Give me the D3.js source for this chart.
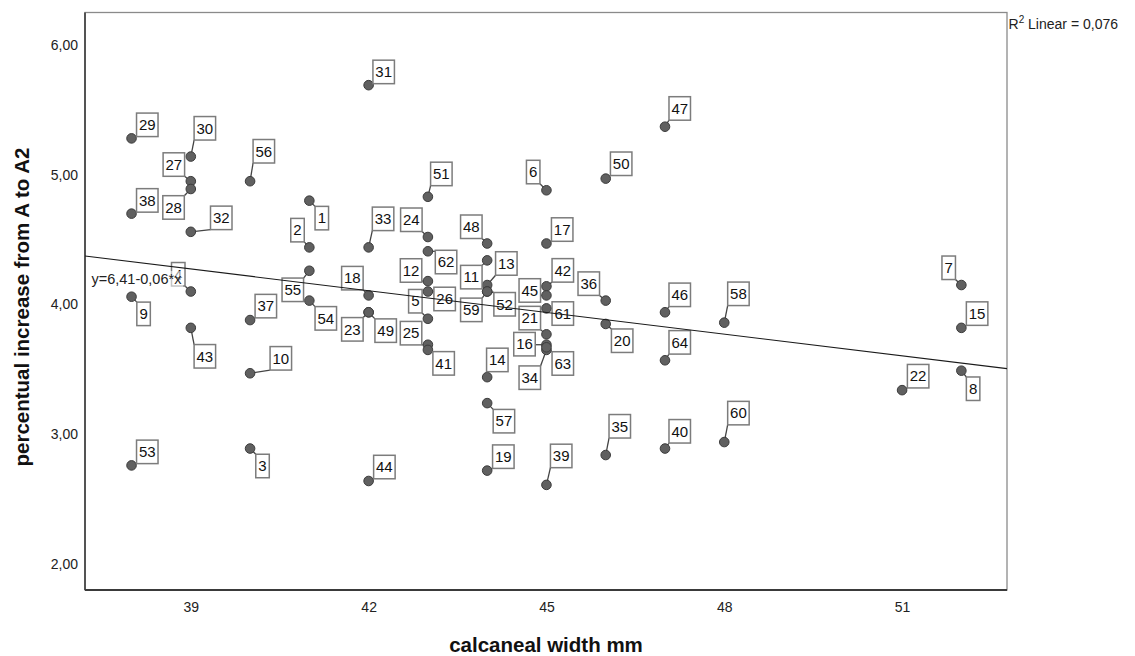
<!DOCTYPE html>
<html>
<head>
<meta charset="utf-8">
<script src="https://cdn.jsdelivr.net/npm/d3@7"></script>
<style>
  html, body { margin: 0; padding: 0; background: #fff; }
  svg { display: block; font-family: "Liberation Sans", Arial, sans-serif; }
</style>
</head>
<body>
<svg id="chart" width="1135" height="656"></svg>
<script>
// ---------------- DATA ----------------
const caseIds = d3.range(1, 65);
const widthMm = [41,41,40,39,43,45,52,52,38,40,44,43,44,44,52,45,45,42,44,46,45,51,42,43,43,43,39,39,38,39,42,39,42,45,46,46,40,38,45,47,43,45,39,42,45,47,47,44,42,46,43,44,38,41,41,40,44,48,44,48,45,43,45,47];
const pctIncrease = [4.80,4.44,2.89,4.10,3.89,4.88,4.15,3.49,4.06,3.47,4.34,4.18,4.15,3.44,3.82,3.69,4.47,4.07,2.72,3.85,3.77,3.34,3.94,4.52,3.69,4.10,4.95,4.89,5.28,5.14,5.69,4.56,4.44,3.65,2.84,4.03,3.88,4.70,2.61,2.89,3.65,4.14,3.82,2.64,4.07,3.94,5.37,4.47,3.94,4.97,4.83,4.10,2.76,4.03,4.26,4.95,3.24,3.86,4.10,2.94,3.97,4.41,3.67,3.57];
const xTicks = [39, 42, 45, 48, 51];
const yTicks = [2, 3, 4, 5, 6];
const xTitle = "calcaneal width mm";
const yTitle = "percentual increase from A to A2";
const equationText = "y=6,41-0,06*x";
const r2Text = " Linear = 0,076";

// ---------------- LAYOUT (label box offsets from point, px) ----------------
const labelOffsets = [
  [5.7,5.7],[-18.6,-29],[5.7,5.7],[-19.3,-29],[-19.3,-29.3],[-20,-30],[-19.4,-29],[5,6.3],[5.3,5.4],[20,-26.7],
  [-26.6,5],[-27.6,-22.4],[8.4,-33.3],[-0.6,-29],[5,-26],[-32.7,-12.3],[5,-25.7],[-27,-29],[5.4,-25.7],[5.7,5],
  [-27.4,-28],[5.3,-25.7],[-27,5.3],[-27.3,-29],[-27.6,-23.3],[6,-4.3],[-27.7,-28.4],[-28,6.7],[5,-25.3],[3.3,-40],
  [4.3,-25],[19.7,-25.7],[3.7,-40.3],[-27.4,16],[3.3,-40.5],[-27.7,-28.7],[5,-25.7],[5,-25],[4,-40.7],[4,-29],
  [5,1.7],[5.6,-27.7],[3.3,16.7],[5,-25.7],[-27.4,-16.7],[4,-29.2],[4,-30],[-26.6,-28.5],[6.3,6.6],[4.7,-26.6],
  [2.7,-34.6],[6.7,1],[5,-25.3],[5.7,6],[-27.3,7.3],[3,-41.7],[6,6.3],[3.4,-40.6],[-26.6,6.6],[3.4,-40.7],
  [5.6,-6.6],[7.4,-1],[5.6,4.4],[4,-29.7]
];

const svg = d3.select("#chart");
const plot = { left: 85, right: 1007, top: 12.5, bottom: 590 };

const x = d3.scaleLinear().domain([37.215, 52.77]).range([plot.left, plot.right]);
const y = d3.scaleLinear().domain([1.8, 6.25]).range([plot.bottom, plot.top]);

const data = caseIds.map((id, i) => ({ id, x: widthMm[i], y: pctIncrease[i], off: labelOffsets[i] }));

// frame
svg.append("rect")
  .attr("x", plot.left).attr("y", plot.top)
  .attr("width", plot.right - plot.left).attr("height", plot.bottom - plot.top)
  .attr("fill", "#fff").attr("stroke", "#8a8a8a").attr("stroke-width", 1.3);
svg.append("line").attr("x1", plot.left).attr("x2", plot.left).attr("y1", plot.top).attr("y2", plot.bottom)
  .attr("stroke", "#4a4a4a").attr("stroke-width", 1.8);
svg.append("line").attr("x1", plot.left).attr("x2", plot.right).attr("y1", plot.bottom).attr("y2", plot.bottom)
  .attr("stroke", "#3a3a3a").attr("stroke-width", 1.8);

// axes
const fmt = d => d.toFixed(2).replace(".", ",");
const gx = svg.append("g").attr("transform", `translate(0,${plot.bottom})`)
  .call(d3.axisBottom(x).tickValues(xTicks).tickSize(0).tickPadding(12));
gx.select(".domain").remove();
gx.selectAll("text").attr("font-size", 14).attr("fill", "#222").attr("font-family", "Liberation Sans, Arial, sans-serif");

const gy = svg.append("g").attr("transform", `translate(${plot.left},0)`)
  .call(d3.axisLeft(y).tickValues(yTicks).tickFormat(fmt).tickSize(0).tickPadding(7));
gy.select(".domain").remove();
gy.selectAll("text").attr("font-size", 14).attr("fill", "#222").attr("font-family", "Liberation Sans, Arial, sans-serif");

// label boxes geometry
const boxH = 23.5;
function boxOf(d) {
  const w = String(d.id).length === 1 ? 13.5 : 21.5;
  const px = x(d.x), py = y(d.y);
  return { px, py, l: px + d.off[0], t: py + d.off[1], w, h: boxH };
}

// leader lines
const leaders = svg.append("g");
data.forEach(d => {
  const b = boxOf(d);
  const cx = Math.max(b.l, Math.min(b.px, b.l + b.w));
  const cy = Math.max(b.t, Math.min(b.py, b.t + b.h));
  if (Math.hypot(cx - b.px, cy - b.py) > 0.5) {
    leaders.append("line")
      .attr("x1", b.px).attr("y1", b.py).attr("x2", cx).attr("y2", cy)
      .attr("stroke", "#444").attr("stroke-width", 1.3);
  }
});

// points
svg.append("g").selectAll("circle").data(data).join("circle")
  .attr("cx", d => x(d.x)).attr("cy", d => y(d.y)).attr("r", 4.8)
  .attr("fill", "#606060").attr("stroke", "#3c3c3c").attr("stroke-width", 1);

// label boxes
const lab = svg.append("g").selectAll("g").data(data).join("g");
lab.append("rect")
  .attr("x", d => boxOf(d).l).attr("y", d => boxOf(d).t)
  .attr("width", d => boxOf(d).w).attr("height", boxH)
  .attr("fill", "#fff").attr("stroke", "#7c7c7c").attr("stroke-width", 1.5);
lab.append("text")
  .attr("x", d => boxOf(d).l + boxOf(d).w / 2).attr("y", d => boxOf(d).t + 17)
  .attr("text-anchor", "middle").attr("font-size", 15).attr("fill", "#111")
  .text(d => d.id);

// regression line (least squares from data)
const mx = d3.mean(widthMm), my = d3.mean(pctIncrease);
const sxy = d3.sum(widthMm, (v, i) => (v - mx) * (pctIncrease[i] - my));
const sxx = d3.sum(widthMm, v => (v - mx) * (v - mx));
const slope = sxy / sxx, intercept = my - slope * mx;
const [x0, x1] = x.domain();
svg.append("line")
  .attr("x1", x(x0)).attr("y1", y(intercept + slope * x0))
  .attr("x2", x(x1)).attr("y2", y(intercept + slope * x1))
  .attr("stroke", "#1a1a1a").attr("stroke-width", 1.1);

// equation label
const eq = svg.append("g");
const eqText = eq.append("text").attr("x", plot.left + 6.5).attr("y", 284)
  .attr("font-size", 14.5).attr("fill", "#222").text(equationText);
const bb = eqText.node().getBBox();
eq.insert("rect", "text").attr("x", bb.x - 1).attr("y", bb.y).attr("width", bb.width + 2).attr("height", bb.height)
  .attr("fill", "#fff").attr("opacity", 0.55);

// R squared
const r2 = svg.append("text").attr("x", plot.right + 1.5).attr("y", 29).attr("font-size", 14).attr("fill", "#222");
r2.append("tspan").text("R");
r2.append("tspan").attr("font-size", 10).attr("dy", -6).text("2");
r2.append("tspan").attr("dy", 6).text(r2Text);

// axis titles
svg.append("text").attr("x", (plot.left + plot.right) / 2).attr("y", 651.5)
  .attr("text-anchor", "middle").attr("font-size", 20.5).attr("font-weight", "bold").attr("fill", "#111")
  .text(xTitle);
svg.append("text").attr("transform", `translate(29,307) rotate(-90)`)
  .attr("text-anchor", "middle").attr("font-size", 20.5).attr("font-weight", "bold").attr("fill", "#111")
  .text(yTitle);
</script>
</body>
</html>
